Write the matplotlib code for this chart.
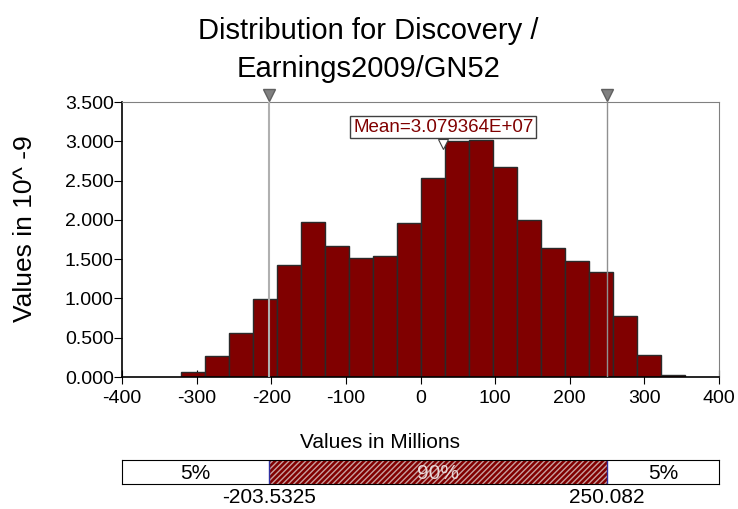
import matplotlib.pyplot as plt
import matplotlib.transforms as mtransforms
import numpy as np

plt.rcParams['font.family'] = ['Liberation Sans', 'DejaVu Sans']
plt.rcParams['axes.unicode_minus'] = False

# histogram (values in millions, density in 10^-9)
bin_start = -321.5
bin_width = 32.2
heights = [0.064, 0.268, 0.558, 0.988, 1.426, 1.975, 1.664, 1.516, 1.545, 1.958,
           2.529, 3.000, 3.020, 2.669, 2.001, 1.639, 1.482, 1.337, 0.775, 0.285, 0.030]
left_cut = -203.5325
right_cut = 250.082
mean_val = 30.79364
pct_labels = ['5%', '90%', '5%']
x_ticks = [-400, -300, -200, -100, 0, 100, 200, 300, 400]
y_ticks = [0, 0.5, 1.0, 1.5, 2.0, 2.5, 3.0, 3.5]

fig = plt.figure(figsize=(7.38, 5.09), dpi=100)
ax = fig.add_axes([0.1653, 0.2593, 0.809, 0.5403])

edges = bin_start + bin_width * np.arange(len(heights))
ax.bar(edges, heights, width=bin_width, align='edge', color='#800000',
       edgecolor='#2a2a2a', linewidth=1.0, zorder=2)

ax.set_xlim(-400, 400)
ax.set_ylim(0, 3.5)
ax.set_xticks(x_ticks)
ax.set_yticks(y_ticks)
ax.set_yticklabels(['%.3f' % v for v in y_ticks])
ax.tick_params(axis='x', direction='inout', length=10, labelsize=14, pad=4)
ax.tick_params(axis='y', direction='out', length=6, labelsize=14, pad=0)
for s in ['top', 'right']:
    ax.spines[s].set_color('#808080')
for s in ['left', 'bottom']:
    ax.spines[s].set_color('black')
    ax.spines[s].set_linewidth(1.2)

# percentile lines with triangle markers
tri = mtransforms.offset_copy(ax.get_xaxis_transform(), fig=fig, x=0, y=5, units='points')
for v, c, lw in [(left_cut, '#b0b0b0', 1.5), (right_cut, '#909090', 1.0)]:
    ax.axvline(v, color=c, lw=lw, zorder=3)
    ax.plot(v, 1.0, marker='v', ms=9, color='#808080', mec='#606060',
            transform=tri, clip_on=False, zorder=4)

# mean label
ax.text(mean_val, 3.18, 'Mean=3.079364E+07', ha='center', va='center', fontsize=13.5,
        color='#800000', zorder=5,
        bbox=dict(boxstyle='square,pad=0.15', fc='white', ec='#404040', lw=1))
ax.plot(mean_val, 2.97, marker='v', ms=7, color='white', mec='#404040', mew=0.8, zorder=5)

ax.set_xlabel('Values in Millions', fontsize=15)
ax.xaxis.set_label_coords(0.432, -0.258)
ax.xaxis.label.set_va('baseline')
ax.set_ylabel('Values in 10^ -9', fontsize=19)
ax.yaxis.set_label_coords(-0.142, 0.538)
fig.text(0.4993, 0.9234, 'Distribution for Discovery /', ha='center', va='baseline', fontsize=21)
fig.text(0.4993, 0.8487, 'Earnings2009/GN52', ha='center', va='baseline', fontsize=21)

# percentile bar
bx = fig.add_axes([0.1653, 0.0491, 0.809, 0.0472])
bx.set_xlim(-400, 400)
bx.set_ylim(0, 1)
bx.axvspan(-400, left_cut, color='white')
bx.axvspan(left_cut, right_cut, facecolor='#800000', edgecolor='#c8a0a0',
           hatch='//////', lw=0)
bx.axvline(left_cut, color='#3030a0', lw=1)
bx.axvline(right_cut, color='#3030a0', lw=1)
bx.set_xticks([])
bx.set_yticks([])
for s in bx.spines.values():
    s.set_color('black')
    s.set_linewidth(0.8)
centers = [(-400 + left_cut) / 2, (left_cut + right_cut) / 2, (right_cut + 400) / 2]
for cx, lab, col in zip(centers, pct_labels, ['black', '#e8d8d8', 'black']):
    bx.text(cx, 0.45, lab, ha='center', va='center', fontsize=15, color=col)
bx.text(left_cut, -0.55, '%.4f' % left_cut, ha='center', va='center', fontsize=15)
bx.text(right_cut, -0.55, '%.3f' % right_cut, ha='center', va='center', fontsize=15)

fig.savefig('out.png', dpi=100)
